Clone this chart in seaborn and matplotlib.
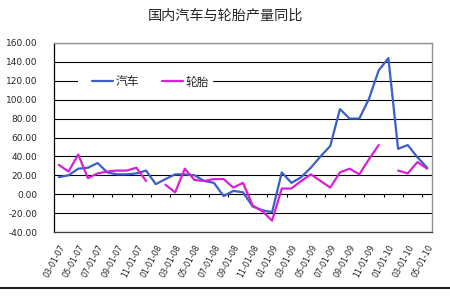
import numpy as np
import pandas as pd
import matplotlib
matplotlib.use("Agg")
import matplotlib.pyplot as plt
from matplotlib.lines import Line2D
import seaborn as sns

title = "国内汽车与轮胎产量同比"
series_names = ["汽车", "轮胎"]

# monthly categories, Mar 2007 .. May 2010
months = []
for yy, ms in [(7, range(3, 13)), (8, range(1, 13)), (9, range(1, 13)), (10, range(1, 6))]:
    for m in ms:
        months.append(f"{m:02d}-01-{yy:02d}")

car = [18, 20, 27, 28, 33, 23, 21, 21, 22, 25,
       10.6, 16, 21, 21, 20, 14, 12, -2, 3.5, 2,
       -13, -17, -19, 23, 12, 18, 28, 40, 51, 90,
       80, 80, 101, 131, 144, 48, 52, 39, 28]
tire = [31, 24, 42, 17, 22, 24, 25, 25, 28, 14,
        np.nan, 10, 2, 27, 15, 14, 16, 16, 7, 12,
        -12, -18, -28, 6, 6, 14, 21, 14, 7, 23,
        27, 21, 37, 52, np.nan, 25, 22, 34, 27]

yticks = [-40, -20, 0, 20, 40, 60, 80, 100, 120, 140, 160]
colors = {"汽车": "#3A5FC8", "轮胎": "#D820D8"}

rows = []
for name, vals in zip(series_names, [car, tire]):
    seg = 0
    prev_nan = False
    for i, v in enumerate(vals):
        if np.isnan(v):
            prev_nan = True
            continue
        if prev_nan:
            seg += 1
            prev_nan = False
        rows.append({"x": i, "v": v, "series": name, "seg": f"{name}_{seg}"})
df = pd.DataFrame(rows)

sns.set_style("white")
cjk = ["Noto Sans CJK SC", "DejaVu Sans"]
plt.rcParams["font.family"] = cjk

fig = plt.figure(figsize=(4.5, 3.0), dpi=100)
ax = fig.add_axes([54 / 450, 1 - 232 / 300, 378 / 450, 189 / 300])

n = len(months)
for v in yticks:
    ax.axhline(v, color="black", lw=0.8, zorder=1)

sns.lineplot(data=df, x="x", y="v", hue="series", units="seg", estimator=None,
             palette=colors, hue_order=series_names, lw=1.6, ax=ax, legend=False,
             zorder=3)

# small tick marks on the zero line, every two categories
ax.vlines(np.arange(1.5, n - 1, 2), -3.2, 0, color="black", lw=0.8, zorder=2)

ax.set_xlim(-0.5, n - 0.5)
ax.set_ylim(yticks[0], yticks[-1])
ax.set_yticks(yticks)
ax.set_yticklabels([f"{v:.2f}" for v in yticks], fontsize=6.5, family="DejaVu Sans")
ax.set_xticks(range(0, n, 2))
ax.set_xticklabels(months[::2], rotation=62, ha="right", rotation_mode="anchor",
                   fontsize=5.8, family="DejaVu Sans")
ax.tick_params(axis="x", length=0, pad=8)
ax.tick_params(axis="y", length=0, pad=12)
ax.set_xlabel("")
ax.set_ylabel("")

for s in ["top", "right"]:
    ax.spines[s].set_color("#909090")
    ax.spines[s].set_linewidth(1.0)
ax.spines["left"].set_color("black")
ax.spines["left"].set_linewidth(0.9)
ax.spines["bottom"].set_color("#404040")
ax.spines["bottom"].set_linewidth(0.9)

handles = [Line2D([0], [0], color=colors[nm], lw=1.6) for nm in series_names]
leg = ax.legend(handles, series_names, loc="center left", bbox_to_anchor=(0.063, 0.794),
                ncol=2, frameon=True, fontsize=8.5, handlelength=1.8, handletextpad=0.2,
                columnspacing=1.9, borderpad=0.25, borderaxespad=0)
leg._legend_box.align = "left"
leg.get_frame().set_facecolor("white")
leg.get_frame().set_edgecolor("white")
leg.get_frame().set_alpha(1)
leg.set_zorder(4)
# widen the white box on the left so the handles start further right
leg._legend_box.set_offset  # keep default
leg.borderpad = 0.25

fig.text(0.5, 1 - 16 / 300, title, ha="center", va="center", fontsize=10.2, family=cjk)

fig.add_artist(Line2D([0, 1], [1 - 288 / 300, 1 - 288 / 300], color="#202020", lw=1.5,
                      transform=fig.transFigure))

fig.canvas.draw()
# shift the legend so the first handle begins near x=92px while its white box still starts at 78px
bb = leg.get_window_extent()
shift_px = 92 - (bb.x0 + 0.25 * 8.5 * 100 / 72)
leg.set_bbox_to_anchor((0.063 + (shift_px) / 378, 0.794), transform=ax.transAxes)
fig.canvas.draw()
bb2 = leg.get_window_extent()
# white patch covering gridline between 78px and legend start
from matplotlib.patches import Rectangle
y120 = ax.transData.transform((0, 120))[1]
fig.add_artist(Rectangle((78 / 450, (y120 - 3) / 300), (bb2.x0 - 78 + 1) / 450, 6 / 300,
                         transform=fig.transFigure, facecolor="white", edgecolor="none",
                         zorder=5))

fig.savefig("out.png", dpi=100, facecolor="white")
